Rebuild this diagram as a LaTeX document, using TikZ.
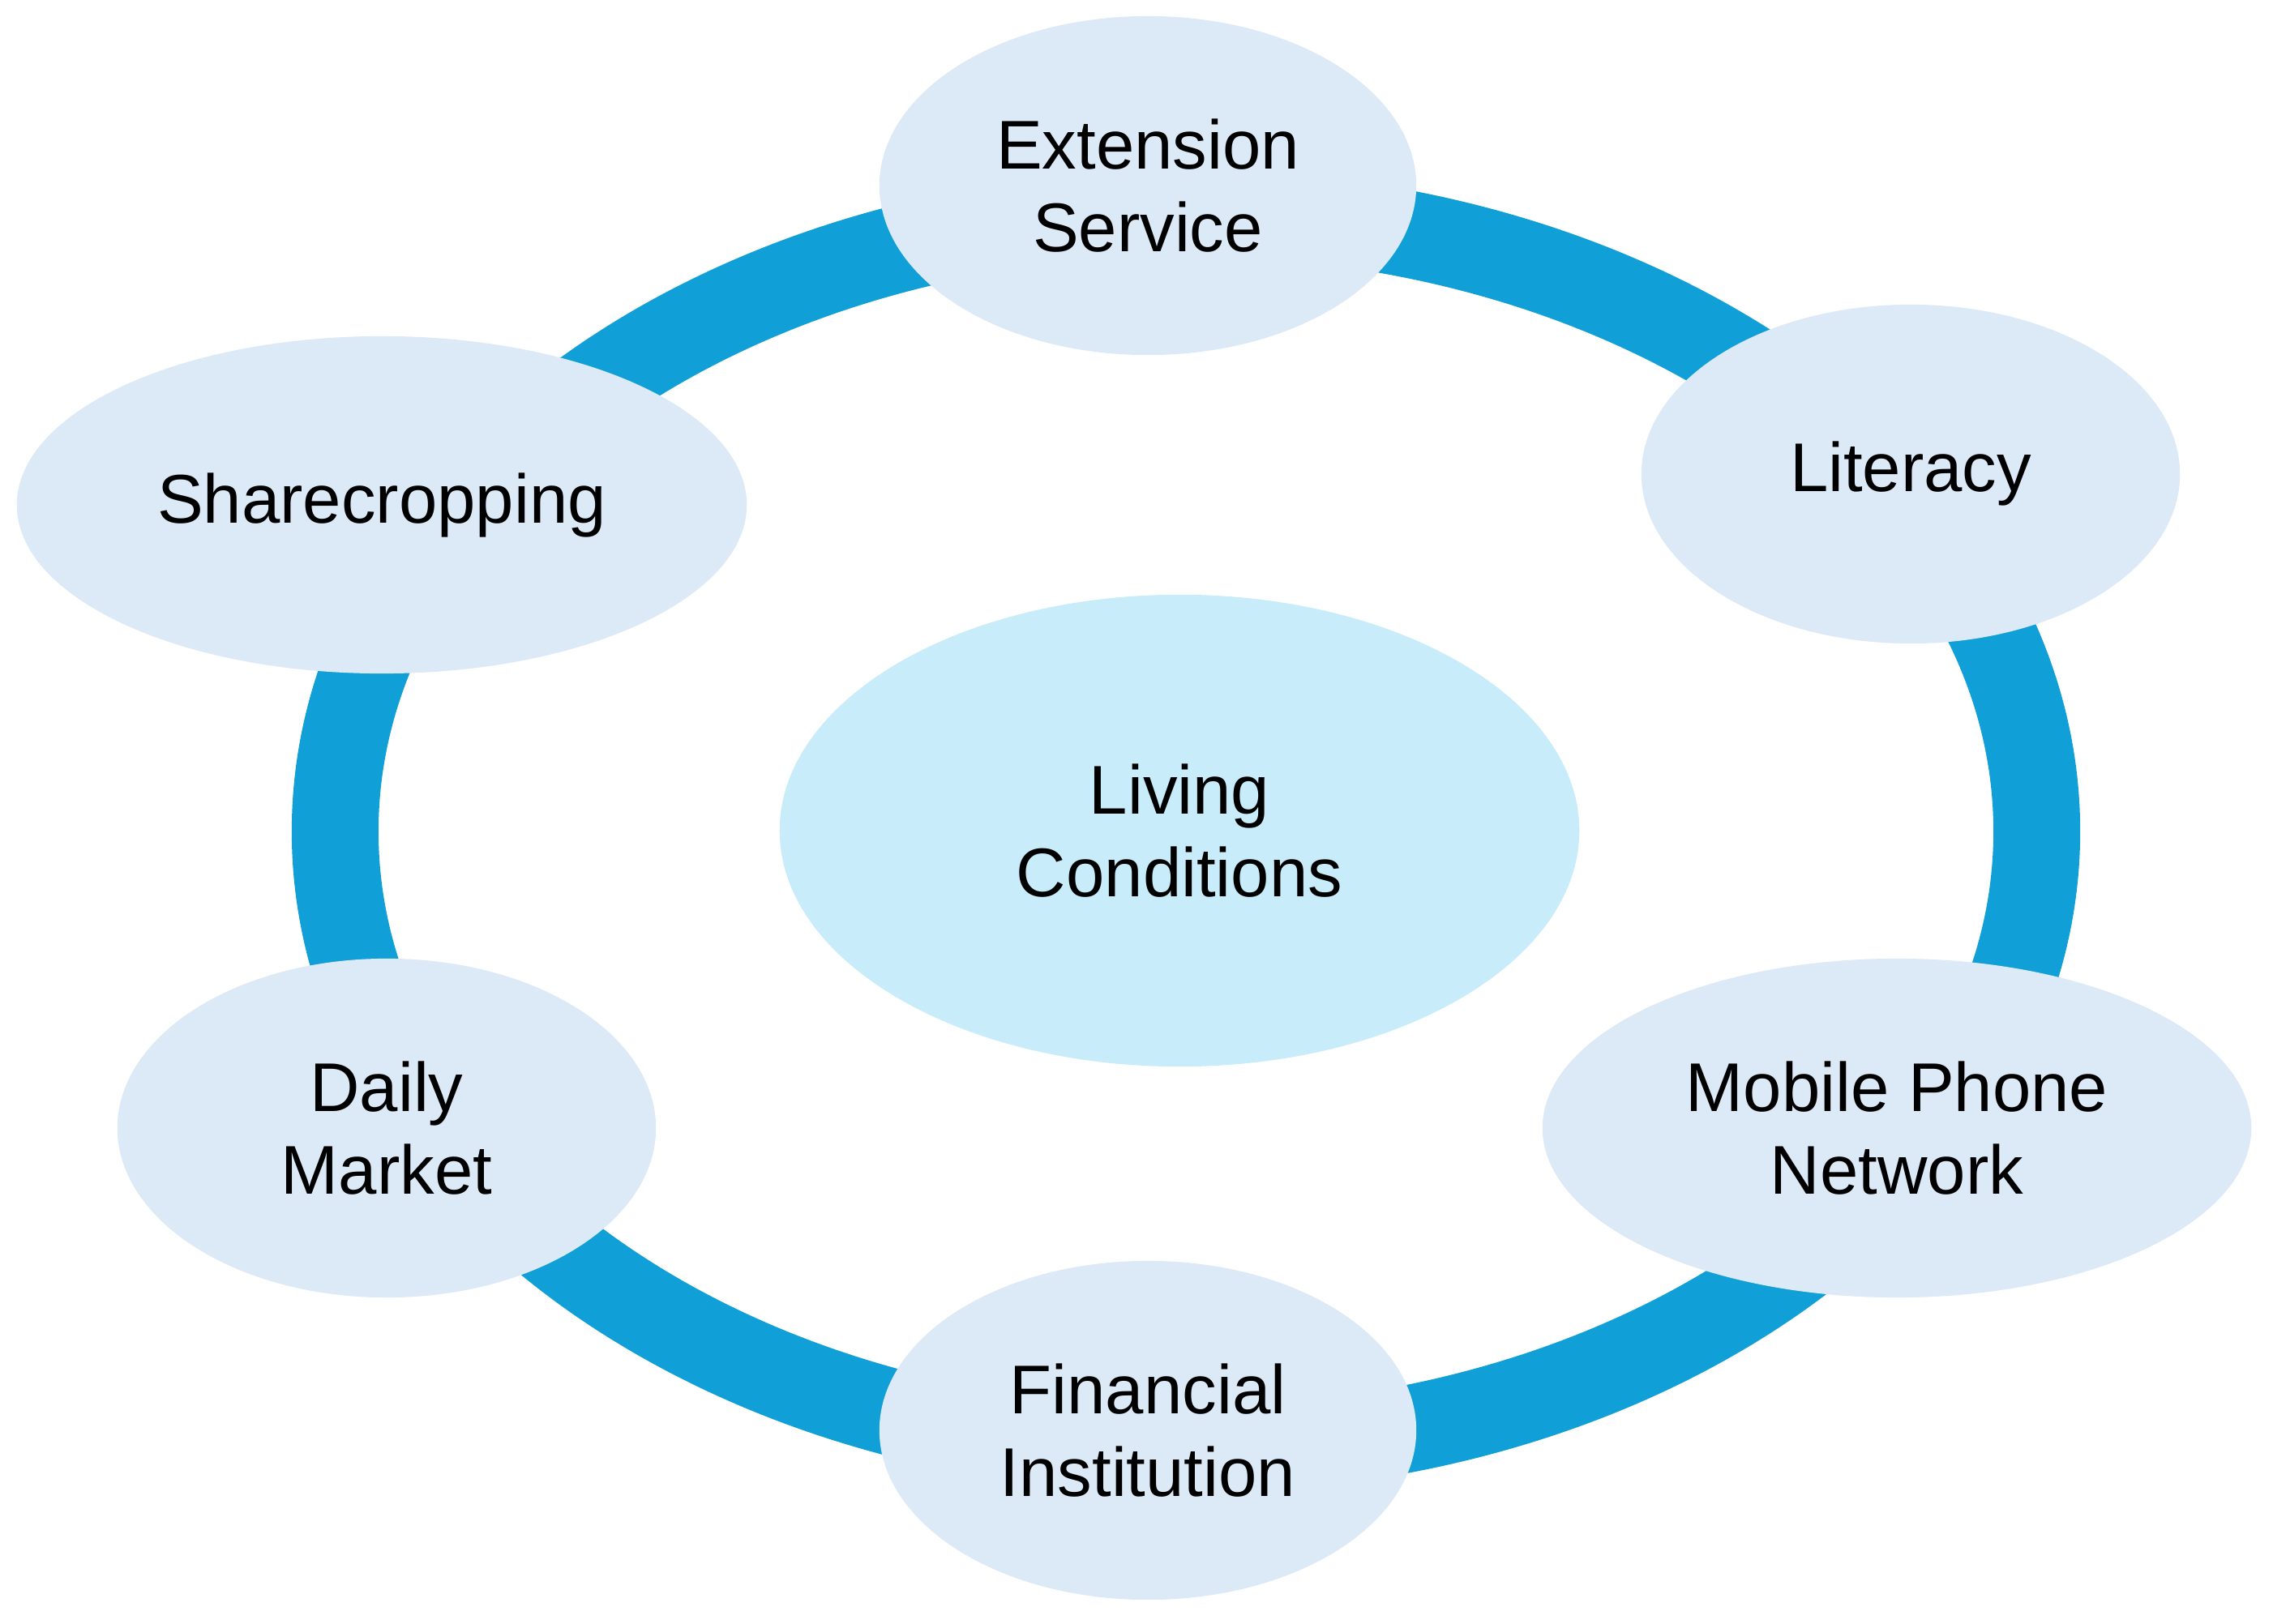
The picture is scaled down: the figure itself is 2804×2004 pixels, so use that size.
\documentclass[tikz,border=0pt]{standalone}
\usepackage{fontspec}
\setmainfont{Liberation Sans}
\usetikzlibrary{shapes.geometric}
\definecolor{ringblue}{RGB}{16,159,214}
\definecolor{nodefill}{RGB}{220,233,246}
\definecolor{centerfill}{RGB}{201,236,250}
\tikzset{
  ringline/.style={draw=ringblue, line width=1.07cm},
  bubble/.style={ellipse, fill=nodefill, draw=none, inner sep=0pt, align=center,
    font=\fontsize{24.2}{29}\selectfont, text=black},
  hub/.style={bubble, fill=centerfill}
}
\begin{document}
\begin{tikzpicture}[x=0.01cm, y=-0.01cm]
\useasboundingbox (0,0) rectangle (2804,2004);
\coordinate (ringc) at (1463,1026);
\draw[ringline] (ringc) ellipse [x radius=10.49cm, y radius=7.63cm];
\node[hub, minimum width=9.86cm, minimum height=5.82cm] (living) at (1455,1025) {Living\\Conditions};
\node[bubble, minimum width=6.62cm, minimum height=4.18cm] (ext) at (1416,229) {Extension\\Service};
\node[bubble, minimum width=6.64cm, minimum height=4.18cm] (lit) at (2357,585) {Literacy};
\node[bubble, minimum width=9.00cm, minimum height=4.16cm] (share) at (471,623) {Sharecropping};
\node[bubble, minimum width=6.64cm, minimum height=4.18cm] (daily) at (477,1392) {Daily\\Market};
\node[bubble, minimum width=8.74cm, minimum height=4.18cm] (mobile) at (2340,1392) {Mobile Phone\\Network};
\node[bubble, minimum width=6.62cm, minimum height=4.18cm] (fin) at (1416,1765) {Financial\\Institution};
\end{tikzpicture}
\end{document}
